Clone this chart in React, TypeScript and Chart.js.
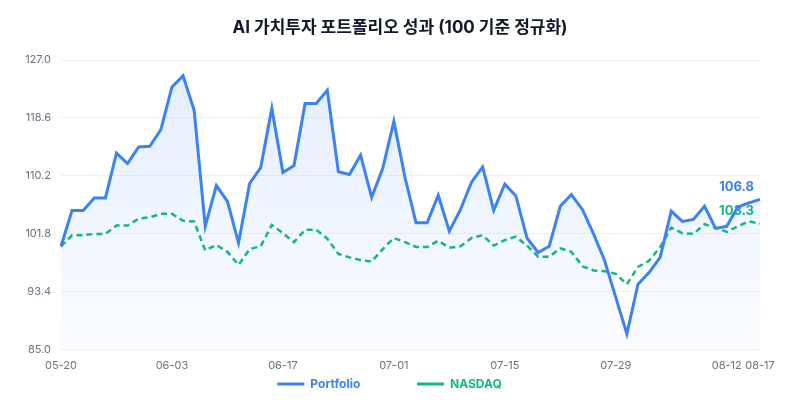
import React, { useEffect, useRef } from "react";
import { Chart, registerables } from "chart.js";

Chart.register(...registerables);

const TITLE = "AI 가치투자 포트폴리오 성과 (100 기준 정규화)";

const dates = [
  "05-20", "05-21", "05-22", "05-23", "05-24",
  "05-27", "05-28", "05-29", "05-30", "05-31",
  "06-03", "06-04", "06-05", "06-06", "06-07",
  "06-10", "06-11", "06-12", "06-13", "06-14",
  "06-17", "06-18", "06-19", "06-20", "06-21",
  "06-24", "06-25", "06-26", "06-27", "06-28",
  "07-01", "07-02", "07-03", "07-04", "07-05",
  "07-08", "07-09", "07-10", "07-11", "07-12",
  "07-15", "07-16", "07-17", "07-18", "07-19",
  "07-22", "07-23", "07-24", "07-25", "07-26",
  "07-29", "07-30", "07-31", "08-01", "08-02",
  "08-05", "08-06", "08-07", "08-08", "08-09",
  "08-12", "08-13", "08-14", "08-17",
];

const portfolio = [
  100.0, 105.2, 105.2, 107.0, 107.0, 113.5, 112.0, 114.4, 114.5, 116.9,
  123.1, 124.7, 119.7, 102.9, 108.8, 106.5, 100.5, 109.1, 111.4, 120.0,
  110.7, 111.7, 120.7, 120.7, 122.6, 110.8, 110.4, 113.2, 107.1, 111.3,
  118.1, 110.0, 103.4, 103.4, 107.4, 102.2, 105.3, 109.3, 111.5, 105.2,
  109.0, 107.3, 101.2, 99.1, 100.0, 105.8, 107.5, 105.3, 101.8, 97.9,
  92.6, 87.3, 94.5, 96.2, 98.4, 105.1, 103.6, 103.9, 105.8, 102.6,
  102.9, 105.7, 106.3, 106.8,
];

const nasdaq = [
  100.0, 101.6, 101.6, 101.8, 101.8, 103.0, 103.0, 104.0, 104.2, 104.7,
  104.7, 103.7, 103.6, 99.4, 100.2, 99.2, 97.3, 99.6, 100.0, 103.1,
  101.9, 100.6, 102.4, 102.4, 101.1, 98.9, 98.4, 98.0, 97.8, 99.6,
  101.2, 100.6, 99.9, 99.9, 100.8, 99.8, 100.0, 101.2, 101.6, 100.1,
  100.9, 101.4, 100.1, 98.5, 98.5, 99.7, 99.2, 97.1, 96.5, 96.4,
  96.0, 94.5, 97.0, 97.9, 99.9, 102.7, 101.9, 101.8, 103.2, 102.7,
  102.1, 102.9, 103.6, 103.3,
];

const seriesNames = ["Portfolio", "NASDAQ"];
const Y_MIN = 85.0;
const Y_MAX = 127.0;
const Y_STEP = 8.4;
const TICK_EVERY = 10;

const BLUE = "#3b82f6";
const GREEN = "#10b981";
const FONT = "Inter, 'Noto Sans CJK KR', sans-serif";
// invisible trailing spacing used to reproduce the legend's item gaps
const LEGEND_TAILS = ["\u2003\u2003\u2003\u2003 ", "\u2003\u2002 "];

const endLabelPlugin = {
  id: "endLabels",
  beforeDatasetsDraw(chart: any) {
    const ctx = chart.ctx;
    chart.data.datasets.forEach((ds: any, i: number) => {
      const meta = chart.getDatasetMeta(i);
      const pts = meta.data;
      if (!pts.length) return;
      const pt = pts[pts.length - 1];
      const v = ds.data[ds.data.length - 1];
      ctx.save();
      ctx.font = `bold 13px ${FONT}`;
      ctx.fillStyle = ds.borderColor;
      ctx.textAlign = "right";
      ctx.textBaseline = "bottom";
      ctx.fillText(Number(v).toFixed(1), pt.x - 6, pt.y - 6);
      ctx.restore();
    });
  },
};

// let the y-axis labels extend into the left padding (so the title stays centred)
const yAxisLabelRoom = {
  id: "yAxisLabelRoom",
  afterLayout(chart: any) {
    const y = chart.scales.y;
    if (y) {
      y.left = 0;
      y.width = y.right;
    }
  },
};

export default function App() {
  const ref = useRef<HTMLCanvasElement | null>(null);

  useEffect(() => {
    document.body.style.margin = "0";
    const canvas = ref.current;
    if (!canvas) return;
    const colors = [BLUE, GREEN];
    const chart = new Chart(canvas, {
      type: "line",
      data: {
        labels: dates,
        datasets: [
          {
            label: seriesNames[0],
            data: portfolio,
            borderColor: BLUE,
            borderWidth: 3,
            pointRadius: 0,
            tension: 0,
            fill: "start",
            backgroundColor: (c: any) => {
              const area = c.chart.chartArea;
              if (!area) return "rgba(59,130,246,0.08)";
              const g = c.chart.ctx.createLinearGradient(0, area.top, 0, area.bottom);
              g.addColorStop(0, "rgba(59,130,246,0.14)");
              g.addColorStop(1, "rgba(59,130,246,0.02)");
              return g;
            },
          },
          {
            label: seriesNames[1],
            data: nasdaq,
            borderColor: GREEN,
            backgroundColor: GREEN,
            borderWidth: 2.5,
            borderDash: [6, 4],
            pointRadius: 0,
            tension: 0,
            fill: false,
          },
        ],
      },
      options: {
        animation: false,
        responsive: true,
        maintainAspectRatio: false,
        layout: { padding: { top: 8, left: 40, right: 40, bottom: 0 } },
        plugins: {
          title: {
            display: true,
            text: TITLE,
            color: "#111827",
            font: { family: FONT, size: 17, weight: "bold" },
            padding: { top: 10, bottom: 21.6 },
          },
          legend: {
            position: "bottom",
            labels: {
              usePointStyle: true,
              pointStyle: "line",
              pointStyleWidth: 27,
              padding: 6,
              font: { family: FONT, size: 12, weight: "bold" },
              generateLabels: (ch: any) => {
                const items = (Chart as any).defaults.plugins.legend.labels.generateLabels(ch);
                return items.map((it: any, i: number) => ({
                  ...it,
                  text: it.text + LEGEND_TAILS[i],
                  fontColor: colors[i],
                  strokeStyle: colors[i],
                  fillStyle: colors[i],
                  lineWidth: 3,
                }));
              },
            },
          },
          tooltip: { enabled: false },
        },
        scales: {
          x: {
            grid: { display: false, drawTicks: true, tickLength: 9 },
            border: { display: false },
            ticks: {
              autoSkip: false,
              maxRotation: 0,
              padding: 0,
              color: "#6b7280",
              font: { family: FONT, size: 11 },
              callback: (_v: any, i: number) =>
                i % TICK_EVERY === 0 || i === dates.length - 1 ? dates[i] : "",
            },
          },
          y: {
            min: Y_MIN,
            max: Y_MAX,
            grid: { color: "#eef0f4", drawTicks: false },
            border: { display: false },
            afterFit: (scale: any) => {
              scale.width = 21;
            },
            ticks: {
              stepSize: Y_STEP,
              padding: 10,
              color: "#6b7280",
              font: { family: FONT, size: 11 },
              callback: (v: any) => Number(v).toFixed(1),
            },
          },
        },
      },
      plugins: [endLabelPlugin, yAxisLabelRoom],
    } as any);
    return () => chart.destroy();
  }, []);

  return (
    <div style={{ position: "fixed", left: 0, top: 0, width: 800, height: 400 }}>
      <canvas ref={ref} />
    </div>
  );
}
